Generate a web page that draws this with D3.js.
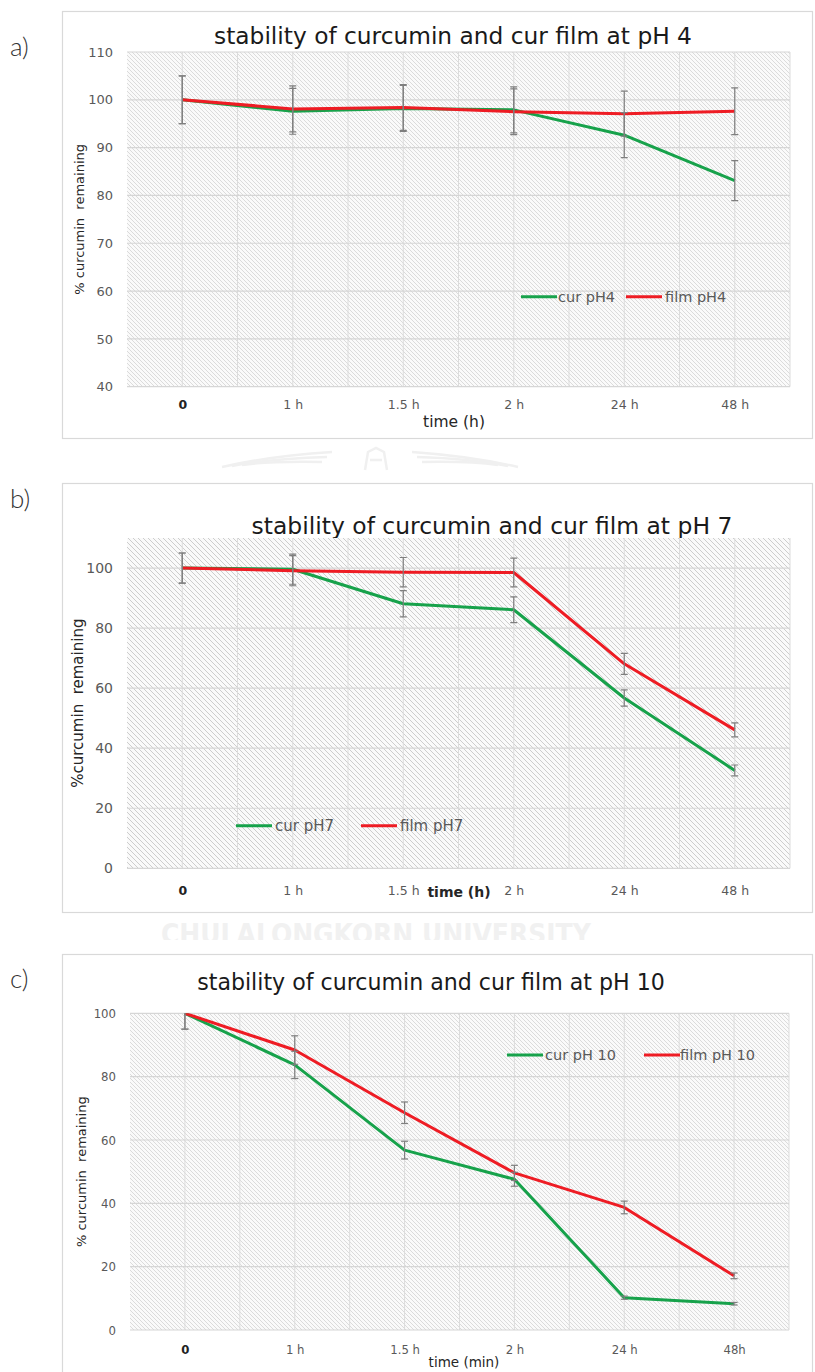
<!DOCTYPE html>
<html>
<head>
<meta charset="utf-8">
<script src="https://cdn.jsdelivr.net/npm/d3@7"></script>
<style>
  body { margin: 0; background: #fff; }
  svg { display: block; font-family: "DejaVu Sans", "Noto Sans", sans-serif; }
</style>
</head>
<body>
<div id="chart"></div>
<script>
// time points on the x axis
var categories = ["0", "1 h", "1.5 h", "2 h", "24 h", "48 h"];
var categoriesC = ["0", "1 h", "1.5 h", "2 h", "24 h", "48h"];

// % curcumin remaining, pH 4
var curPH4 = [100, 97.6, 98.2, 97.9, 92.6, 83.1];
var curPH4Err = [5, 4.8, 4.8, 4.8, 4.7, 4.2];
var filmPH4 = [100, 98.1, 98.4, 97.5, 97.1, 97.6];
var filmPH4Err = [5, 4.8, 4.8, 4.8, 4.7, 4.9];

// pH 7
var curPH7 = [100, 99.6, 88.1, 86.1, 56.7, 32.6];
var curPH7Err = [5, 5, 4.4, 4.3, 2.7, 1.8];
var filmPH7 = [100, 99.1, 98.6, 98.5, 68.1, 46.1];
var filmPH7Err = [5, 5, 4.9, 4.8, 3.5, 2.3];

// pH 10
var curPH10 = [100, 83.7, 56.8, 47.6, 10.2, 8.3];
var curPH10Err = [5, 4.3, 2.8, 2.2, 0.5, 0.4];
var filmPH10 = [100, 88.4, 68.6, 49.6, 38.7, 17.1];
var filmPH10Err = [5, 4.5, 3.4, 2.4, 2.0, 0.9];

// y tick values
var ticksA = [40, 50, 60, 70, 80, 90, 100, 110];
var ticksB = [0, 20, 40, 60, 80, 100];
var ticksC = [0, 20, 40, 60, 80, 100];

var green = "#17a24b";
var red = "#ee1c24";

var svg = d3.select("#chart")
    .append("svg")
    .attr("width", 815)
    .attr("height", 1372);

var defs = svg.append("defs");

// diagonal hatch fill used for the plot areas
function addHatch(id, size, color, w) {
  var p = defs.append("pattern")
      .attr("id", id)
      .attr("patternUnits", "userSpaceOnUse")
      .attr("width", size)
      .attr("height", size);
  p.append("rect").attr("width", size).attr("height", size).attr("fill", "#fafafa");
  p.append("path")
      .attr("d", "M0,0L" + size + "," + size +
                 "M-1," + (size - 1) + "L1," + (size + 1) +
                 "M" + (size - 1) + ",-1L" + (size + 1) + ",1")
      .attr("stroke", color)
      .attr("stroke-width", w);
}
addHatch("hatchA", 4, "#d8d8d8", 0.9);
addHatch("hatchB", 5, "#cdcdcd", 1);
addHatch("hatchC", 4, "#d8d8d8", 0.9);

// shrink/grow a text so it spans the wanted width
function fitWidth(sel, target) {
  var fs = parseFloat(sel.style("font-size"));
  var w = sel.node().getComputedTextLength();
  if (w > 0) sel.style("font-size", (fs * target / w) + "px");
}

// faint university watermarks between the panels
var wm = svg.append("g").attr("stroke", "#f0f0f0").attr("stroke-width", 2.5).attr("fill", "none");
[0, 5, 10].forEach(function(o) {
  wm.append("path").attr("d", "M" + (222 + o * 2) + "," + (467 - o * 0.2) + "Q270," + (456 + o * 0.5) + " " + (332 - o) + "," + (452 + o));
  wm.append("path").attr("d", "M" + (412 + o) + "," + (452 + o) + "Q470," + (456 + o * 0.5) + " " + (518 - o * 2) + "," + (467 - o * 0.2));
});
wm.append("path").attr("d", "M365,470L368,452L376,448L384,452L387,470M370,460L382,460");

svg.append("clipPath").attr("id", "wmclip")
  .append("rect").attr("x", 0).attr("y", 915).attr("width", 815).attr("height", 25);
var wmText = svg.append("text")
    .attr("x", 161).attr("y", 944)
    .attr("clip-path", "url(#wmclip)")
    .style("font-family", "'DejaVu Sans Condensed', 'DejaVu Sans', sans-serif")
    .style("font-weight", "bold")
    .style("font-size", "25px")
    .style("fill", "#f1f1f1")
    .text("CHULALONGKORN UNIVERSITY");
fitWidth(wmText, 430);

var panels = [
  {
    letter: "a)", letterY: 56,
    box: {x: 62.5, y: 11.5, w: 750, h: 427},
    title: "stability of curcumin and cur film at pH 4", titleX: 453, titleY: 44, titleW: 478,
    plot: {l: 127, r: 790, t: 52, b: 386.7},
    yDomain: [40, 110], ticks: ticksA, cats: categories, hatch: "hatchA",
    yTickSize: 13, xTickSize: 12.5, tickPad: 13, tickFont: "'DejaVu Sans', sans-serif",
    xTitle: "time (h)", xTitleX: 454, xTitleY: 427, xTitleSize: 15.5, xTitleWeight: 400,
    yTitle: "% curcumin  remaining", yTitleX: 79, yTitleSize: 13,
    series: [
      {name: "cur pH4", vals: curPH4, errs: curPH4Err, color: green},
      {name: "film pH4", vals: filmPH4, errs: filmPH4Err, color: red}
    ],
    legend: {y: 296.7, size: 14.5, items: [[521, 558], [626, 665]]}
  },
  {
    letter: "b)", letterY: 508,
    box: {x: 62.5, y: 483.5, w: 750, h: 429},
    title: "stability of curcumin and cur film at pH 7", titleX: 492, titleY: 534, titleW: 481,
    plot: {l: 127, r: 790, t: 538, b: 868.3},
    yDomain: [0, 110], ticks: ticksB, cats: categories, hatch: "hatchB",
    yTickSize: 14, xTickSize: 12.5, tickPad: 18, tickFont: "'DejaVu Sans', sans-serif",
    xTitle: "time (h)", xTitleX: 459, xTitleY: 897, xTitleSize: 14, xTitleWeight: "bold",
    yTitle: "%curcumin  remaining", yTitleX: 78, yTitleSize: 15,
    series: [
      {name: "cur pH7", vals: curPH7, errs: curPH7Err, color: green},
      {name: "film pH7", vals: filmPH7, errs: filmPH7Err, color: red}
    ],
    legend: {y: 825.7, size: 15, items: [[236, 275], [361, 400]]}
  },
  {
    letter: "c)", letterY: 988,
    box: {x: 62.5, y: 954.5, w: 750, h: 430},
    title: "stability of curcumin and cur film at pH 10", titleX: 431, titleY: 990, titleW: 468,
    plot: {l: 130, r: 789, t: 1013.3, b: 1330},
    yDomain: [0, 100], ticks: ticksC, cats: categoriesC, hatch: "hatchC",
    yTickSize: 13, xTickSize: 13, tickPad: 15, tickFont: "'Liberation Sans Narrow', 'DejaVu Sans Condensed', sans-serif",
    xTitle: "time (min)", xTitleX: 464, xTitleY: 1367, xTitleSize: 13.5, xTitleWeight: 400,
    yTitle: "% curcumin  remaining", yTitleX: 81, yTitleSize: 13,
    series: [
      {name: "cur pH 10", vals: curPH10, errs: curPH10Err, color: green},
      {name: "film pH 10", vals: filmPH10, errs: filmPH10Err, color: red}
    ],
    legend: {y: 1055, size: 14.5, items: [[507, 545], [644, 680]]}
  }
];

panels.forEach(function(p, pi) {
  var g = svg.append("g");

  // outer frame
  g.append("rect")
      .attr("x", p.box.x).attr("y", p.box.y)
      .attr("width", p.box.w).attr("height", p.box.h)
      .attr("fill", "#fff")
      .attr("stroke", "#d9d9d9")
      .attr("stroke-width", 1.2);

  // panel letter
  g.append("text")
      .attr("x", 10).attr("y", p.letterY)
      .style("font-family", "Lato, sans-serif")
      .style("font-weight", 300)
      .style("font-size", "26px")
      .style("fill", "#333")
      .text(p.letter);

  // title
  var t = g.append("text")
      .attr("x", p.titleX).attr("y", p.titleY)
      .attr("text-anchor", "middle")
      .style("font-size", "20px")
      .style("fill", "#1a1a1a")
      .text(p.title);
  fitWidth(t, p.titleW);

  var x = d3.scalePoint().domain(p.cats).range([p.plot.l, p.plot.r]).padding(0.5);
  var y = d3.scaleLinear().domain(p.yDomain).range([p.plot.b, p.plot.t]);
  var step = x.step();

  // plot area with hatch
  g.append("rect")
      .attr("x", p.plot.l).attr("y", p.plot.t)
      .attr("width", p.plot.r - p.plot.l)
      .attr("height", p.plot.b - p.plot.t)
      .attr("fill", "url(#" + p.hatch + ")");

  // vertical gridlines at every half step
  var vx = [];
  p.cats.forEach(function(c) { vx.push(x(c)); vx.push(x(c) + step / 2); });
  g.selectAll(".vgrid")
      .data(vx)
    .enter().append("line")
      .attr("x1", function(d) { return d; })
      .attr("x2", function(d) { return d; })
      .attr("y1", p.plot.t).attr("y2", p.plot.b)
      .attr("stroke", "#dcdcdc")
      .attr("stroke-width", 1);

  // horizontal gridlines
  g.selectAll(".hgrid")
      .data(p.ticks)
    .enter().append("line")
      .attr("x1", p.plot.l).attr("x2", p.plot.r)
      .attr("y1", function(d) { return y(d); })
      .attr("y2", function(d) { return y(d); })
      .attr("stroke", "#d6d6d6")
      .attr("stroke-width", 1.2);

  // y axis
  var yAxis = g.append("g")
      .attr("transform", "translate(" + p.plot.l + ",0)")
      .call(d3.axisLeft(y).tickValues(p.ticks).tickSize(0).tickPadding(14));
  yAxis.select(".domain").remove();
  yAxis.selectAll("text")
      .style("font-family", p.tickFont)
      .style("font-size", p.yTickSize + "px")
      .style("fill", "#595959");

  // x axis
  var xAxis = g.append("g")
      .attr("transform", "translate(0," + p.plot.b + ")")
      .call(d3.axisBottom(x).tickSize(0).tickPadding(p.tickPad));
  xAxis.select(".domain").remove();
  xAxis.selectAll("text")
      .style("font-family", p.tickFont)
      .style("font-size", p.xTickSize + "px")
      .style("fill", function(d, i) { return i === 0 ? "#222" : "#595959"; })
      .style("font-weight", function(d, i) { return i === 0 ? "bold" : "normal"; });

  // axis titles
  g.append("text")
      .attr("x", p.xTitleX).attr("y", p.xTitleY)
      .attr("text-anchor", "middle")
      .style("font-size", p.xTitleSize + "px")
      .style("font-weight", p.xTitleWeight)
      .style("fill", "#262626")
      .text(p.xTitle);

  g.append("text")
      .attr("transform", "translate(" + p.yTitleX + "," + ((p.plot.t + p.plot.b) / 2) + ") rotate(-90)")
      .attr("text-anchor", "middle")
      .attr("dy", "0.35em")
      .style("font-size", p.yTitleSize + "px")
      .style("fill", "#262626")
      .style("white-space", "pre")
      .text(p.yTitle);

  // clip lines and error bars to the plot area
  var clipId = "clip" + pi;
  defs.append("clipPath").attr("id", clipId)
    .append("rect")
      .attr("x", p.plot.l).attr("y", p.plot.t)
      .attr("width", p.plot.r - p.plot.l)
      .attr("height", p.plot.b - p.plot.t);

  var line = d3.line()
      .x(function(d, i) { return x(p.cats[i]); })
      .y(function(d) { return y(d); });

  var marks = g.append("g").attr("clip-path", "url(#" + clipId + ")");

  p.series.forEach(function(s) {
    marks.append("path")
        .datum(s.vals)
        .attr("fill", "none")
        .attr("stroke", s.color)
        .attr("stroke-width", 3)
        .attr("stroke-linejoin", "round")
        .attr("d", line);
  });

  // error bars
  p.series.forEach(function(s) {
    var eb = marks.selectAll(null)
        .data(s.vals.map(function(v, i) { return {c: p.cats[i], v: v, e: s.errs[i]}; }))
      .enter().append("g")
        .attr("stroke", "#7f7f7f")
        .attr("stroke-width", 1.2);
    eb.append("line")
        .attr("x1", function(d) { return x(d.c); })
        .attr("x2", function(d) { return x(d.c); })
        .attr("y1", function(d) { return y(d.v + d.e); })
        .attr("y2", function(d) { return y(d.v - d.e); });
    eb.append("line")
        .attr("x1", function(d) { return x(d.c) - 3.5; })
        .attr("x2", function(d) { return x(d.c) + 3.5; })
        .attr("y1", function(d) { return y(d.v + d.e); })
        .attr("y2", function(d) { return y(d.v + d.e); });
    eb.append("line")
        .attr("x1", function(d) { return x(d.c) - 3.5; })
        .attr("x2", function(d) { return x(d.c) + 3.5; })
        .attr("y1", function(d) { return y(d.v - d.e); })
        .attr("y2", function(d) { return y(d.v - d.e); });
  });

  // legend
  p.series.forEach(function(s, i) {
    var it = p.legend.items[i];
    g.append("line")
        .attr("x1", it[0]).attr("x2", it[0] + 36)
        .attr("y1", p.legend.y).attr("y2", p.legend.y)
        .attr("stroke", s.color)
        .attr("stroke-width", 3);
    g.append("text")
        .attr("x", it[1]).attr("y", p.legend.y)
        .attr("dy", "0.35em")
        .style("font-size", p.legend.size + "px")
        .style("fill", "#595959")
        .text(s.name);
  });
});
</script>
</body>
</html>
